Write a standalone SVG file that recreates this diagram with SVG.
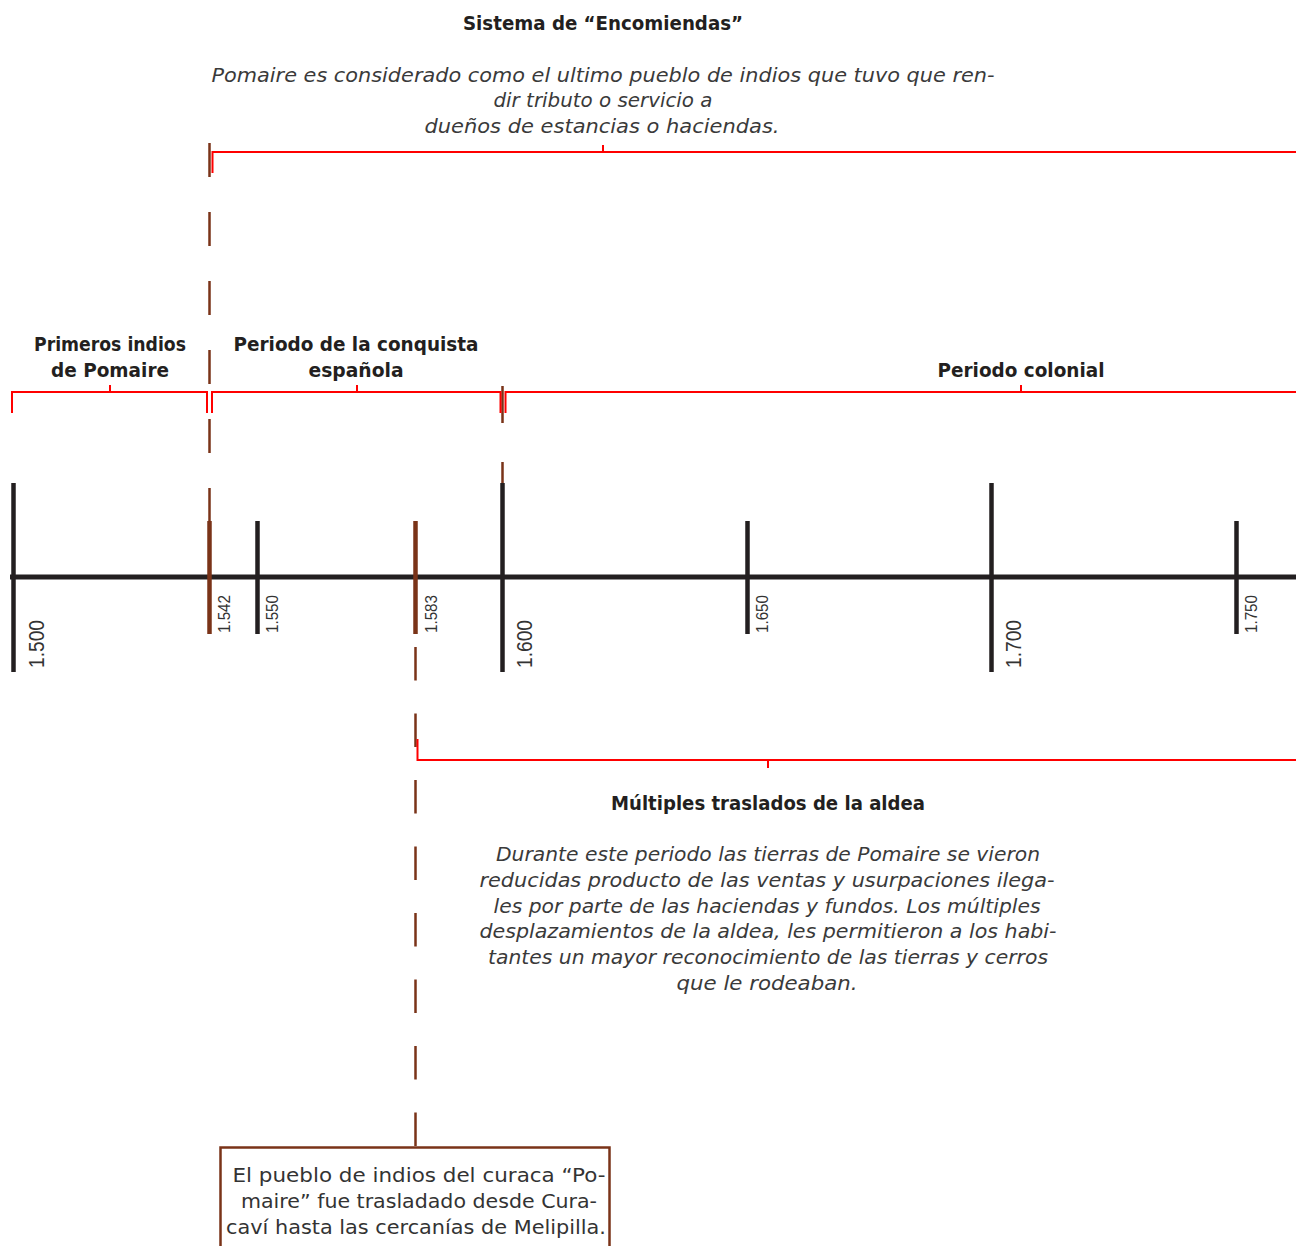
<svg xmlns="http://www.w3.org/2000/svg" width="1296" height="1246" viewBox="0 0 1296 1246">
<style>
.bold{font-family:"DejaVu Sans","Liberation Sans",sans-serif;font-weight:bold;font-size:19px;fill:#231f20;text-anchor:middle}
.ital{font-family:"DejaVu Sans","Liberation Sans",sans-serif;font-style:italic;font-size:19px;fill:#3a3a3a;text-anchor:middle}
.reg{font-family:"DejaVu Sans","Liberation Sans",sans-serif;font-size:19px;fill:#333;text-anchor:middle}
.yb{font-family:"Liberation Sans",sans-serif;font-size:22px;fill:#333}
.ys{font-family:"Liberation Sans",sans-serif;font-size:16px;fill:#333}
.axis{stroke:#231f20;stroke-width:5;fill:none}
.tick{stroke:#231f20;stroke-width:4.5;fill:none}
.btick{stroke:#7a3318;stroke-width:4.5;fill:none}
.dash{stroke:#7a3318;stroke-width:2.5;fill:none}
.red{stroke:#ff0000;stroke-width:2;fill:none}
</style>
<rect width="1296" height="1246" fill="#ffffff"/>
<g id="connectors">
<path class="dash" d="M209.5,143 V521" stroke-dasharray="34 35"/>
<path class="dash" d="M502.5,386 V483" stroke-dasharray="37 39"/>
<path class="dash" d="M415.5,647 V1147" stroke-dasharray="33.5 33"/>
</g>
<g id="axis">
<line class="axis" x1="10" y1="577" x2="1296" y2="577"/>
<line class="tick" x1="13.5" y1="483" x2="13.5" y2="672"/>
<line class="btick" x1="209.5" y1="521" x2="209.5" y2="634"/>
<line class="tick" x1="257.5" y1="521" x2="257.5" y2="634"/>
<line class="btick" x1="415.5" y1="521" x2="415.5" y2="634"/>
<line class="tick" x1="502.5" y1="483" x2="502.5" y2="672"/>
<line class="tick" x1="747.5" y1="521" x2="747.5" y2="634"/>
<line class="tick" x1="991.5" y1="483" x2="991.5" y2="672"/>
<line class="tick" x1="1236.5" y1="521" x2="1236.5" y2="634"/>
<text class="yb" transform="translate(44,668) rotate(-90)" textLength="48" lengthAdjust="spacingAndGlyphs">1.500</text>
<text class="ys" transform="translate(230,633) rotate(-90)" textLength="38" lengthAdjust="spacingAndGlyphs">1.542</text>
<text class="ys" transform="translate(278,633) rotate(-90)" textLength="38" lengthAdjust="spacingAndGlyphs">1.550</text>
<text class="ys" transform="translate(437,633) rotate(-90)" textLength="38" lengthAdjust="spacingAndGlyphs">1.583</text>
<text class="yb" transform="translate(532,668) rotate(-90)" textLength="48" lengthAdjust="spacingAndGlyphs">1.600</text>
<text class="ys" transform="translate(768,633) rotate(-90)" textLength="38" lengthAdjust="spacingAndGlyphs">1.650</text>
<text class="yb" transform="translate(1021,668) rotate(-90)" textLength="48" lengthAdjust="spacingAndGlyphs">1.700</text>
<text class="ys" transform="translate(1257,633) rotate(-90)" textLength="38" lengthAdjust="spacingAndGlyphs">1.750</text>
</g>
<g id="encomiendas">
<path class="red" d="M212.5,173 V152 H1296 M603,145 V152"/>
<text class="bold" x="603" y="30" textLength="280" lengthAdjust="spacingAndGlyphs">Sistema de “Encomiendas”</text>
<text class="ital" x="603" y="82" textLength="783" lengthAdjust="spacingAndGlyphs">Pomaire es considerado como el ultimo pueblo de indios que tuvo que ren-</text>
<text class="ital" x="603" y="107" textLength="219" lengthAdjust="spacingAndGlyphs">dir tributo o servicio a</text>
<text class="ital" x="602" y="133" textLength="355" lengthAdjust="spacingAndGlyphs">dueños de estancias o haciendas.</text>
</g>
<g id="primeros">
<path class="red" d="M12,413 V392 H207 V413 M110,385 V392"/>
<text class="bold" x="110" y="351" textLength="152" lengthAdjust="spacingAndGlyphs">Primeros indios</text>
<text class="bold" x="110" y="377" textLength="118" lengthAdjust="spacingAndGlyphs">de Pomaire</text>
</g>
<g id="conquista">
<path class="red" d="M212,413 V392 H500.5 V413 M357,385 V392"/>
<text class="bold" x="356" y="351" textLength="245" lengthAdjust="spacingAndGlyphs">Periodo de la conquista</text>
<text class="bold" x="356" y="377" textLength="95" lengthAdjust="spacingAndGlyphs">española</text>
</g>
<g id="colonial">
<path class="red" d="M505.5,413 V392 H1296 M1021,385 V392"/>
<text class="bold" x="1021" y="377" textLength="167" lengthAdjust="spacingAndGlyphs">Periodo colonial</text>
</g>
<g id="traslados">
<path class="red" d="M417.5,739 V760 H1296 M768,760 V768"/>
<text class="bold" x="768" y="810" textLength="314" lengthAdjust="spacingAndGlyphs">Múltiples traslados de la aldea</text>
<text class="ital" x="768" y="861" textLength="544" lengthAdjust="spacingAndGlyphs">Durante este periodo las tierras de Pomaire se vieron</text>
<text class="ital" x="767" y="887" textLength="575" lengthAdjust="spacingAndGlyphs">reducidas producto de las ventas y usurpaciones ilega-</text>
<text class="ital" x="767" y="913" textLength="547" lengthAdjust="spacingAndGlyphs">les por parte de las haciendas y fundos. Los múltiples</text>
<text class="ital" x="768" y="938" textLength="577" lengthAdjust="spacingAndGlyphs">desplazamientos de la aldea, les permitieron a los habi-</text>
<text class="ital" x="768" y="964" textLength="560" lengthAdjust="spacingAndGlyphs">tantes un mayor reconocimiento de las tierras y cerros</text>
<text class="ital" x="767" y="990" textLength="181" lengthAdjust="spacingAndGlyphs">que le rodeaban.</text>
</g>
<g id="traslado-box">
<rect x="220.5" y="1147.5" width="389" height="110" fill="none" stroke="#7a3318" stroke-width="2.5"/>
<text class="reg" x="419" y="1182" textLength="373" lengthAdjust="spacingAndGlyphs">El pueblo de indios del curaca “Po-</text>
<text class="reg" x="419" y="1208" textLength="356" lengthAdjust="spacingAndGlyphs">maire” fue trasladado desde Cura-</text>
<text class="reg" x="416" y="1234" textLength="380" lengthAdjust="spacingAndGlyphs">caví hasta las cercanías de Melipilla.</text>
</g>
</svg>
